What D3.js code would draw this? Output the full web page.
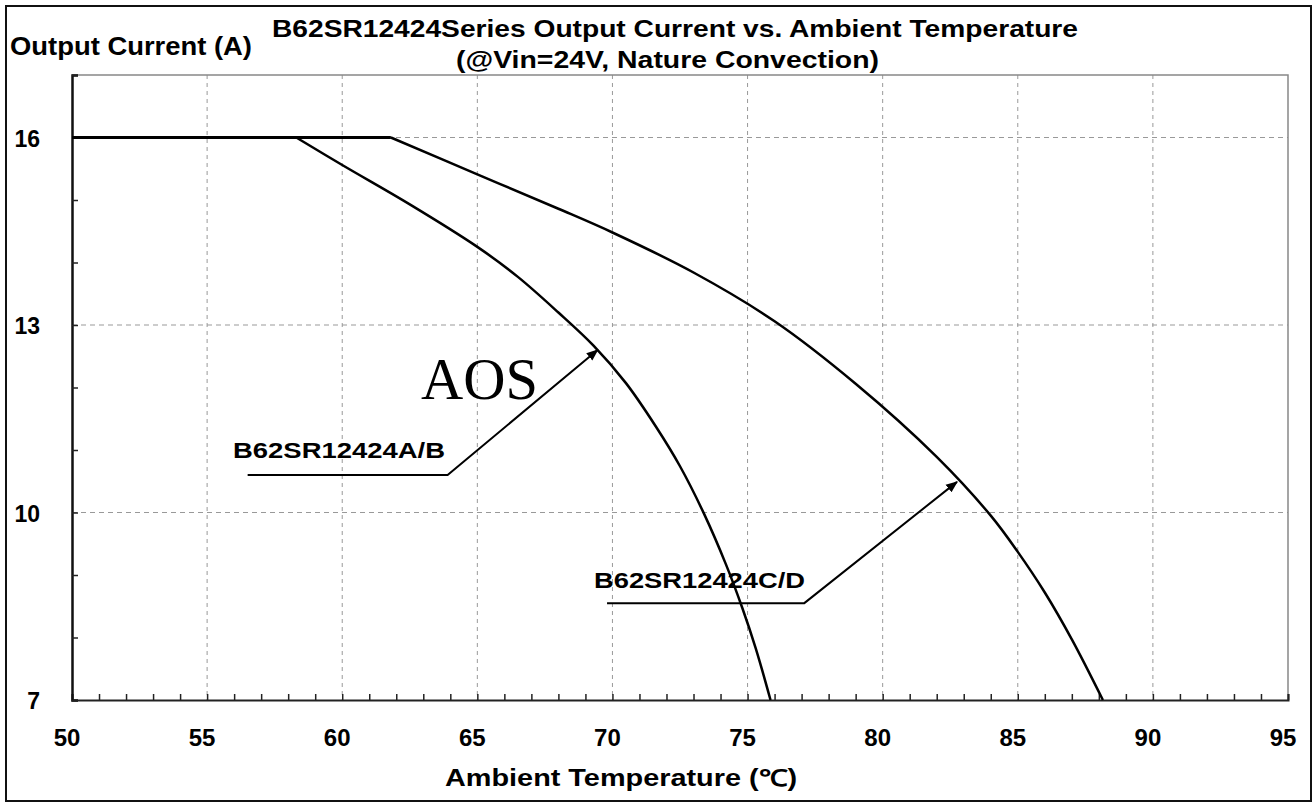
<!DOCTYPE html>
<html><head><meta charset="utf-8">
<script src="https://cdn.jsdelivr.net/npm/d3@7/dist/d3.min.js"></script>
<style>body{margin:0;background:#fff}svg{display:block}text{font-family:"Liberation Sans",Arial,sans-serif;font-weight:bold;fill:#000}</style>
</head><body><svg id="c" width="1316" height="803"></svg>
<script>
// Data
const tempAB = [50, 58.3, 60, 62.5, 65, 66.5, 68, 69.3, 70.5, 71.6, 72.5, 73.4, 74.2, 74.8, 75.3, 75.85];
const currentAB = [16, 16, 15.56, 14.93, 14.25, 13.77, 13.2, 12.67, 12.07, 11.38, 10.74, 9.97, 9.17, 8.48, 7.83, 7.0];
const tempCD = [50, 61.8, 65, 68, 70, 73, 76, 79, 82, 84, 85, 86, 87, 88.15];
const currentCD = [16, 16, 15.41, 14.86, 14.48, 13.84, 13.06, 12.06, 10.89, 9.95, 9.37, 8.72, 7.97, 7.0];
const xTicks = [50, 55, 60, 65, 70, 75, 80, 85, 90, 95];
const yTicks = [7, 10, 13, 16];
const titleLines = ["B62SR12424Series  Output Current vs. Ambient Temperature", "(@Vin=24V, Nature Convection)"];
const yTitle = "Output Current (A)";
const xTitle = "Ambient Temperature (℃)";
const labelAB = "B62SR12424A/B";
const labelCD = "B62SR12424C/D";
const watermark = "AOS";
// annotation anchors (data coords): [label line start, label line end, arrow tip]
const annAB = [[56.5, 10.6], [63.9, 10.6], [69.45, 12.6]];
const annCD = [[69.8, 8.55], [77.1, 8.55], [82.75, 10.49]];

const svg = d3.select("#c");
const L = 72, R = 1288, T = 75, B = 700;
const x = d3.scaleLinear().domain([50, 95]).range([L, R]);
const y = d3.scaleLinear().domain([7, 17]).range([B, T]);

// outer frame
svg.append("rect").attr("x", 6).attr("y", 6).attr("width", 1305).attr("height", 795)
  .attr("fill", "none").attr("stroke", "#111").attr("stroke-width", 2);

// grid
const g = svg.append("g");
g.selectAll(".vg").data(xTicks.filter(d => d > 50 && d < 95)).join("line")
  .attr("x1", d => x(d)).attr("x2", d => x(d)).attr("y1", T).attr("y2", B)
  .attr("stroke", "#999").attr("stroke-width", 1).attr("stroke-dasharray", "4,4");
g.selectAll(".hg").data(yTicks.filter(d => d > 7)).join("line")
  .attr("x1", L).attr("x2", R).attr("y1", d => y(d)).attr("y2", d => y(d))
  .attr("stroke", "#999").attr("stroke-width", 1).attr("stroke-dasharray", "5,4");

// plot border top/right
svg.append("path").attr("d", `M${L},${T}H${R}V${B}`).attr("fill", "none").attr("stroke", "#888").attr("stroke-width", 1.5);

// axes
const xAxis = d3.axisBottom(x).tickValues(d3.range(50, 96, 1)).tickSize(-6).tickFormat("");
svg.append("g").attr("transform", `translate(0,${B})`).call(xAxis)
  .call(a => { a.select(".domain").attr("stroke", "#222").attr("stroke-width", 2); a.selectAll("line").attr("stroke", "#222").attr("stroke-width", 1.5); });
const yAxis = d3.axisLeft(y).tickValues(d3.range(7, 18, 1)).tickSize(-6).tickFormat("");
svg.append("g").attr("transform", `translate(${L},0)`).call(yAxis)
  .call(a => { a.select(".domain").attr("stroke", "#111").attr("stroke-width", 2.5); a.selectAll("line").attr("stroke", "#222").attr("stroke-width", 1.5); });

// tick labels
svg.selectAll(".xl").data(xTicks).join("text").attr("x", d => x(d) - 5).attr("y", 746)
  .attr("text-anchor", "middle").attr("font-size", 24).text(d => d);
svg.selectAll(".yl").data(yTicks).join("text").attr("x", 40).attr("y", d => y(d) + 9)
  .attr("text-anchor", "end").attr("font-size", 23).text(d => d);

// titles
svg.append("text").attr("x", 272).attr("y", 37).attr("font-size", 24).attr("textLength", 806).attr("lengthAdjust", "spacingAndGlyphs").text(titleLines[0]);
svg.append("text").attr("x", 456).attr("y", 68).attr("font-size", 24).attr("textLength", 423).attr("lengthAdjust", "spacingAndGlyphs").text(titleLines[1]);
svg.append("text").attr("x", 10).attr("y", 55).attr("font-size", 25).attr("textLength", 242).attr("lengthAdjust", "spacingAndGlyphs").text(yTitle);
svg.append("text").attr("x", 445).attr("y", 786).attr("font-size", 23).attr("textLength", 352).attr("lengthAdjust", "spacingAndGlyphs").text(xTitle);

// curves
function drawSeries(tx, cy) {
  const pts = tx.map((t, i) => [t, cy[i]]);
  const flat = d3.line().x(d => x(d[0])).y(d => y(d[1]));
  const curve = d3.line().x(d => x(d[0])).y(d => y(d[1])).curve(d3.curveCatmullRom.alpha(0.5));
  svg.append("path").attr("d", flat(pts.slice(0, 2))).attr("fill", "none").attr("stroke", "#000").attr("stroke-width", 3);
  svg.append("path").attr("d", curve(pts.slice(1))).attr("fill", "none").attr("stroke", "#000").attr("stroke-width", 2.5);
}
drawSeries(tempCD, currentCD);
drawSeries(tempAB, currentAB);

// arrows
const defs = svg.append("defs");
defs.append("marker").attr("id", "arr").attr("viewBox", "0 0 10 10").attr("refX", 9).attr("refY", 5)
  .attr("markerWidth", 12).attr("markerHeight", 12).attr("markerUnits", "userSpaceOnUse").attr("orient", "auto")
  .append("path").attr("d", "M0,1 L10,5 L0,9 Z").attr("fill", "#000");
const annLine = d3.line().x(d => x(d[0])).y(d => y(d[1]));
[annAB, annCD].forEach(a => {
  svg.append("path").attr("d", annLine(a)).attr("fill", "none").attr("stroke", "#000").attr("stroke-width", 2).attr("marker-end", "url(#arr)");
});
svg.append("text").attr("x", 233).attr("y", 458).attr("font-size", 22).attr("textLength", 212).attr("lengthAdjust", "spacingAndGlyphs").text(labelAB);
svg.append("text").attr("x", 594).attr("y", 588).attr("font-size", 22).attr("textLength", 211).attr("lengthAdjust", "spacingAndGlyphs").text(labelCD);
svg.append("text").attr("x", 421).attr("y", 399).attr("font-size", 60).attr("textLength", 117).attr("lengthAdjust", "spacingAndGlyphs")
  .style("font-family", "'Liberation Serif','Times New Roman',serif").style("font-weight", "normal").text(watermark);
</script></body></html>
